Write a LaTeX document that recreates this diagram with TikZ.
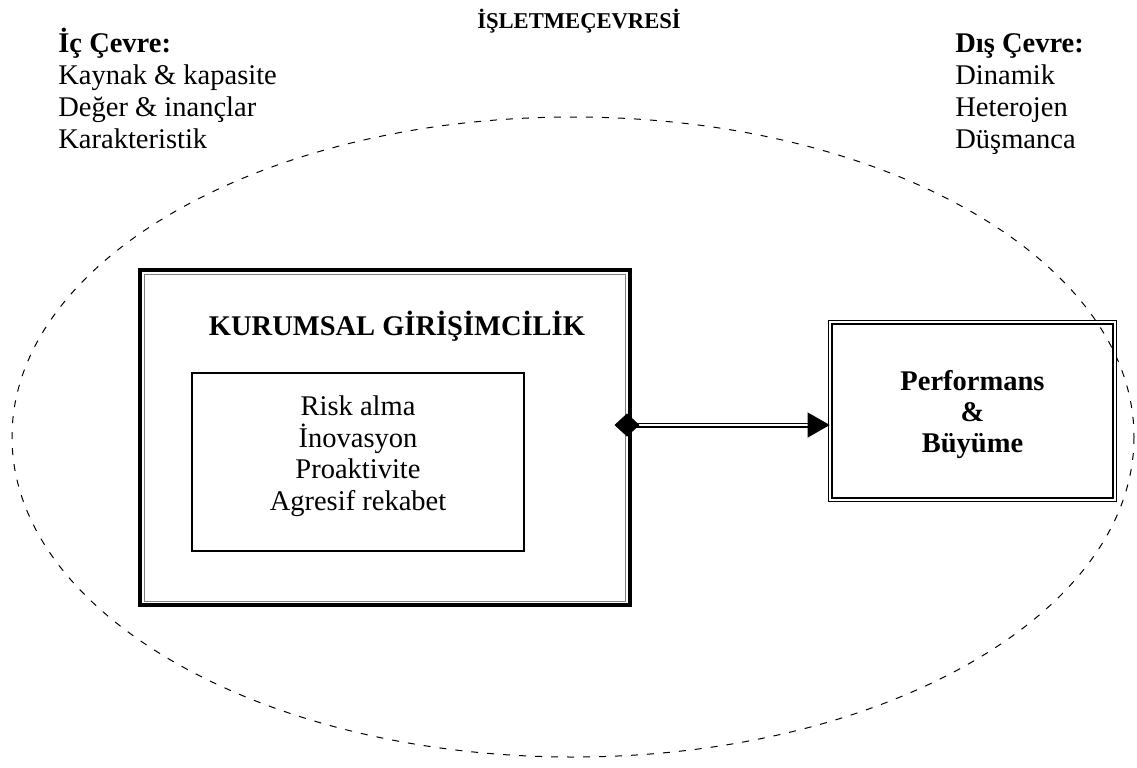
\documentclass[tikz,border=0pt]{standalone}
\usepackage{fontspec}
\setmainfont{Liberation Serif}
\usetikzlibrary{arrows.meta,positioning}

\begin{document}
\begin{tikzpicture}[x=0.5pt,y=-0.5pt,
		font=\fontsize{14.25}{15.85}\selectfont,
		env node/.style={align=left,inner sep=0pt,anchor=base west},
		head node/.style={inner sep=0pt,anchor=base,font=\fontsize{14.25}{15.85}\selectfont\bfseries},
		main node/.style={draw,line width=2pt,minimum width=244.75pt,minimum height=167.5pt},
		trait node/.style={draw,line width=0.6pt,minimum width=166pt,minimum height=89pt,align=center,text depth=9pt},
		result node/.style={draw,double,line width=0.7pt,double distance=1pt,minimum width=142.1pt,minimum height=88.6pt,align=center,text depth=0pt,font=\fontsize{14.25}{15.5}\selectfont\bfseries},
		link/.style={double,line width=0.75pt,double distance=1pt,shorten >=10pt}]
	\useasboundingbox (0,0) rectangle (1137,767);
	%
	% Environment of the firm.
	\draw[line width=0.5pt,dash pattern=on 3.5pt off 4.5pt] (573,437) ellipse [x radius=561,y radius=320];
	\node[head node,font=\fontsize{11.3}{13}\selectfont\bfseries] (env) at (579,28) {İŞLETMEÇEVRESİ};
	\node[env node] (inner) at (58,148) {\textbf{İç Çevre:}\\Kaynak \& kapasite\\Değer \& inançlar\\Karakteristik};
	\node[env node] (outer) at (955,148) {\textbf{Dış Çevre:}\\Dinamik\\Heterojen\\Düşmanca};
	%
	% Corporate entrepreneurship box.
	\node[main node] (kg) at (384.75,437.5) {};
	\draw[line width=0.5pt,gray] ([shift={(3pt,-3pt)}]kg.north west) rectangle ([shift={(-3pt,3pt)}]kg.south east);
	\node[head node] (kgtitle) at (397,335) {KURUMSAL GİRİŞİMCİLİK};
	\node[trait node] (traits) at (358,462) {Risk alma\\İnovasyon\\Proaktivite\\Agresif rekabet};
	%
	% Outcome box.
	\node[result node] (pb) at (972.5,411) {Performans\\\&\\Büyüme};
	%
	% Link between the two.
	\draw[link] ([yshift=6.25pt]kg.east) -- ([yshift=-7pt]pb.west);
	\path[tips,{Diamond[length=12.5pt,width=11.5pt]}-{Triangle[length=11pt,width=12.5pt]},shorten <=-8.5pt]
		([yshift=6.25pt]kg.east) -- ([yshift=-7pt]pb.west);
\end{tikzpicture}
\end{document}
